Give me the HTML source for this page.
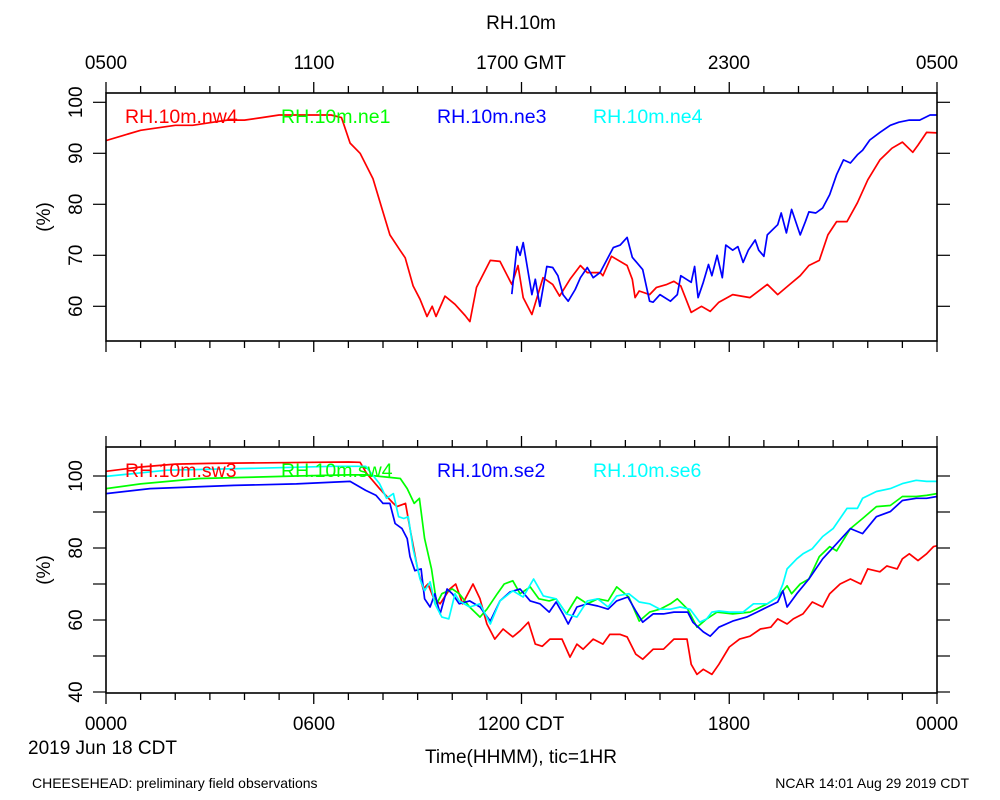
<!DOCTYPE html>
<html><head><meta charset="utf-8">
<style>
html,body{margin:0;padding:0;background:#fff;}
svg{display:block;font-family:"Liberation Sans",Arial,sans-serif;}
</style></head>
<body>
<svg id="chart" width="1000" height="800" viewBox="0 0 1000 800" xmlns="http://www.w3.org/2000/svg">
<rect width="1000" height="800" fill="#fff"/>
<text x="521" y="29" font-size="19" text-anchor="middle">RH.10m</text>
<g id="topAxisLabels" font-size="19" text-anchor="middle">
<text x="106" y="69">0500</text><text x="314" y="69">1100</text><text x="521" y="69">1700 GMT</text><text x="729" y="69">2300</text><text x="937" y="69">0500</text>
</g>
<g id="botAxisLabels" font-size="19" text-anchor="middle">
<text x="106" y="730">0000</text><text x="314" y="730">0600</text><text x="521" y="730">1200 CDT</text><text x="729" y="730">1800</text><text x="937" y="730">0000</text>
</g>
<text x="28" y="754" font-size="19">2019 Jun 18 CDT</text>
<text x="521" y="763" font-size="19" text-anchor="middle">Time(HHMM), tic=1HR</text>
<text x="32" y="788" font-size="14">CHEESEHEAD: preliminary field observations</text>
<text x="969" y="788" font-size="14" text-anchor="end">NCAR 14:01 Aug 29 2019 CDT</text>
<g id="plots"></g>
</svg>
<script>
// ---- data (hours since 0000 CDT, RH %) ----
const nw4T=[0,0.5,1,1.5,2,2.5,3,3.5,4,4.5,5,5.5,6,6.5,6.8,7.05,7.34,7.71,7.91,8.2,8.49,8.64,8.87,9.07,9.27,9.42,9.53,9.79,10.08,10.37,10.51,10.7,11.1,11.38,11.72,11.9,12.05,12.3,12.62,12.9,13.1,13.4,13.7,13.9,14.27,14.35,14.6,15.05,15.2,15.28,15.4,15.7,15.9,16.2,16.4,16.6,16.9,17.2,17.45,17.7,18.1,18.6,19.1,19.4,19.75,20.05,20.3,20.6,20.85,21.1,21.4,21.7,22,22.35,22.7,23,23.3,23.45,23.7,24];
const nw4V=[92.5,93.5,94.5,95,95.5,95.5,96,96.5,96.5,97,97.5,97.5,97.5,97.5,97,92,90,85,80.5,74,71,69.5,64,61.4,58,60,58,62,60.4,58.2,57,63.7,69,68.8,64.3,68,61.7,58.4,65.6,64.3,62,65.3,68,66.6,66.6,66,69.8,68,65.3,61.7,63,62.3,63.7,64.3,64.9,64,58.8,60,59,60.8,62.3,61.7,64.3,62.3,64.3,66,68,69,74,76.6,76.6,80.3,84.8,88.7,91,92.2,90.2,91.6,94.1,94];
const ne3T=[11.72,11.87,11.96,12.05,12.3,12.4,12.53,12.73,12.9,13.05,13.2,13.35,13.55,13.7,13.9,14.07,14.27,14.65,14.85,15.05,15.2,15.5,15.7,15.8,16,16.3,16.5,16.6,16.9,17,17.1,17.25,17.4,17.5,17.65,17.8,17.9,18.1,18.25,18.4,18.55,18.75,18.85,19,19.1,19.4,19.5,19.65,19.8,20.05,20.2,20.3,20.5,20.7,20.9,21.1,21.3,21.5,21.7,21.85,22.06,22.35,22.65,22.9,23.2,23.5,23.8,24];
const ne3V=[62.4,71.7,70,72.5,62.3,65.3,60,67.8,67.6,66,62.3,61,63.3,65.6,67.6,65.6,66.6,71.5,72,73.5,69.6,67.2,61,60.8,62.3,61,62.3,66,64.7,67.8,61.7,64.7,68.2,66,70,65.6,72,71,71.7,68.6,71,73,71,69.8,74,76,78.3,74.4,79,74,76.6,78.5,78.3,79.3,81.9,85.8,88.7,88.1,89.7,90.6,92.6,94.1,95.5,96.1,96.5,96.5,97.5,97.5];
const sw3T=[0,1,2,3,4,5,6,7,7.34,7.53,7.9,8.3,8.4,8.65,8.78,9,9.16,9.3,9.45,9.65,9.93,10.1,10.3,10.6,10.8,11,11.23,11.47,11.75,11.96,12.2,12.4,12.6,12.82,13.17,13.4,13.6,13.78,14.07,14.35,14.55,14.85,15.05,15.3,15.5,15.8,16.1,16.4,16.58,16.78,16.9,17.07,17.25,17.5,17.7,18,18.3,18.6,18.9,19.2,19.4,19.67,19.85,20.13,20.4,20.7,20.9,21.2,21.5,21.8,22,22.35,22.55,22.85,23,23.2,23.45,23.7,23.9,24];
const sw3V=[101.3,102.5,103.3,103.5,103.6,103.7,103.8,103.9,103.8,100.7,96.5,92.4,91.5,92.4,85.4,74.2,68.6,70,66.4,64.5,68.6,70,64.5,70,65.9,58.9,54.7,57.5,55.3,57,59.4,53.3,52.7,54.7,54.7,49.7,53.3,51.9,54.7,53.3,56,56,55.3,50.5,49.1,51.9,51.9,54.7,54.7,54.7,47.7,44.9,46.3,44.9,47.7,52.5,54.7,55.5,57.5,58,60.3,58.9,60.3,61.7,65,63.6,67.3,70,71.4,70,74.2,73.4,75,74.2,77,78.4,76.5,78.4,80.4,80.6];
const sw4T=[0,1,2.7,4,5.5,7,7.5,7.8,8.5,8.7,8.9,9.05,9.2,9.4,9.55,9.7,10,10.2,10.5,10.8,11,11.3,11.5,11.75,11.96,12.25,12.5,12.8,13,13.3,13.6,13.9,14.2,14.5,14.75,15.1,15.4,15.7,16,16.3,16.5,16.8,17.07,17.35,17.65,18.1,18.6,19.1,19.4,19.67,19.8,20.05,20.3,20.6,20.9,21.1,21.5,21.85,22.25,22.65,23,23.4,23.7,24];
const sw4V=[96.5,97.8,99.3,99.6,100,100.3,100.3,100,99.3,96.5,92.4,93.8,82.6,74.2,64.5,67.3,68.6,67.3,63.6,60.8,63,67.3,70,70.9,67.3,69.2,65.9,65.3,65.9,61.7,66.4,64.5,65.9,65.3,69.2,66.4,59.7,62.2,63,64.5,65.9,63,58,60.3,62.2,61.7,62.2,64.5,66.4,69.5,67.3,70,71.4,77.6,80.4,79.2,85.4,88.2,91.5,91.8,94.3,94.3,94.6,95.1];
const se2T=[0,1.27,3.7,5.5,7.05,7.5,7.8,8,8.2,8.35,8.55,8.7,8.78,8.92,9.1,9.2,9.36,9.5,9.65,9.85,10,10.2,10.5,10.8,11.1,11.38,11.67,11.96,12.25,12.53,12.8,13,13.2,13.35,13.6,13.9,14.2,14.5,14.75,15.07,15.3,15.5,15.8,16.1,16.4,16.8,16.95,17.25,17.45,17.7,18.1,18.5,18.8,19.1,19.4,19.55,19.67,19.95,20.3,20.7,21.1,21.5,21.85,22.25,22.65,23,23.4,23.7,24];
const se2V=[95.1,96.5,97.4,97.8,98.5,96,94.6,92.4,92.4,86.8,85.4,82.6,77.6,73.7,74.2,65.9,63.6,67.3,61.7,68.6,67.3,64.5,65.3,63.6,59.7,65.3,67.8,68.6,65.3,64.5,62.2,65,61.7,58.9,63.6,64.5,63.9,63,65.3,66.4,62.5,59.4,61.7,61.7,62.2,62.2,59.4,56.7,55.5,58,59.7,60.8,62.2,63.6,65,68.1,63.6,67.3,71.4,77,81.2,85.4,84,88.7,90.1,93.2,93.8,93.8,94.3];
const se6T=[0,1.76,4.15,6.55,7.5,7.9,8.1,8.3,8.45,8.6,8.73,8.87,9.07,9.2,9.36,9.5,9.7,9.9,10.08,10.2,10.5,10.8,11.1,11.38,11.75,12.05,12.35,12.63,13,13.3,13.6,13.9,14.2,14.5,14.75,15.1,15.4,15.7,16,16.3,16.58,16.87,17.15,17.35,17.5,17.7,18,18.4,18.7,19.1,19.4,19.55,19.67,19.95,20.13,20.4,20.7,21,21.4,21.7,21.85,22.25,22.65,23,23.4,23.7,24];
const se6V=[99.9,101.6,102.1,102.7,102.7,97.9,93.8,95.1,88.7,88.2,88.7,79.8,71.4,68.1,70.6,64.5,60.8,60.3,67.3,65.3,63.6,64.5,58.9,65.3,68.1,66.4,71.4,66.7,65.9,61.7,60.8,65.3,65.9,63.6,66.7,67.3,65,64.5,63,63,63.6,63,59.4,60.3,62.2,62.5,62.2,62.2,64.5,64.5,66.4,70,74.2,77,78.4,79.8,83.2,85.4,91,91,93.8,95.7,96.5,97.9,98.8,98.5,98.5];
const topYTicks=[60,70,80,90,100];
const botYTicks=[40,60,80,100];
const botYMinor=[50,70,90];

const NS='http://www.w3.org/2000/svg';
const plots=document.getElementById('plots');
const X0=106,X1=937;
function xs(h){return X0+(X1-X0)*h/24;}
const P1={top:93,bot:341,y:v=>102.3-(v-100)*5.1};
const P2={top:447,bot:693,y:v=>692-(v-40)*3.6};
function mk(tag,attrs,parent){const e=document.createElementNS(NS,tag);for(const k in attrs)e.setAttribute(k,attrs[k]);(parent||plots).appendChild(e);return e;}

function panel(P,name,yt,ymin,series,legends){
  const g=mk('g',{});
  
  
  const cp=mk('clipPath',{id:'cp-'+name},g);
  mk('rect',{x:X0,y:P.top,width:X1-X0,height:P.bot-P.top},cp);
  for(let h=0;h<=24;h++){
    const L=(h%6===0)?11:7;
    mk('line',{x1:xs(h),x2:xs(h),y1:P.top-L,y2:P.top,stroke:'#000','stroke-width':1.3},g);
    mk('line',{x1:xs(h),x2:xs(h),y1:P.bot,y2:P.bot+L,stroke:'#000','stroke-width':1.3},g);
  }
  yt.forEach(v=>{
    const y=P.y(v);
    mk('line',{x1:X0-13,x2:X0,y1:y,y2:y,stroke:'#000','stroke-width':1.2},g);
    mk('line',{x1:X1,x2:X1+13,y1:y,y2:y,stroke:'#000','stroke-width':1.2},g);
    const t=mk('text',{x:0,y:0,'font-size':19,'text-anchor':'middle',transform:`translate(82,${y}) rotate(-90)`},g);
    t.textContent=v;
    
    
  });
  ymin.forEach(v=>{
    const y=P.y(v);
    mk('line',{x1:X0-13,x2:X0,y1:y,y2:y,stroke:'#000','stroke-width':1.2},g);
    mk('line',{x1:X1,x2:X1+13,y1:y,y2:y,stroke:'#000','stroke-width':1.2},g);
  });
  const yl=mk('text',{x:0,y:0,'font-size':19,'text-anchor':'middle',transform:`translate(50,${(P.top+P.bot)/2}) rotate(-90)`},g);
  yl.textContent='(%)';
  
  
  const sg=mk('g',{'clip-path':`url(#cp-${name})`},g);
  series.forEach(s=>{
    const d=s.t.map((h,i)=>(i?'L':'M')+xs(h).toFixed(1)+','+P.y(s.v[i]).toFixed(1)).join('');
    const p=mk('path',{d:d,fill:'none',stroke:s.c,'stroke-width':1.7,'stroke-linejoin':'round'},sg);
    
    
  });
  legends.forEach((l,i)=>{
    const t=mk('text',{x:125+i*156,y:P.top+30,'font-size':19.5,fill:l.c},g);
    t.textContent=l.n;
    
    
  });
  mk('rect',{x:X0,y:P.top,width:X1-X0,height:P.bot-P.top,fill:'none',stroke:'#000','stroke-width':1.6},g);
}
panel(P1,'top-panel',topYTicks,[],[
  {n:'nw4',c:'#ff0000',t:nw4T,v:nw4V},
  {n:'ne3',c:'#0000ff',t:ne3T,v:ne3V}
],[{n:'RH.10m.nw4',c:'#ff0000'},{n:'RH.10m.ne1',c:'#00ff00'},{n:'RH.10m.ne3',c:'#0000ff'},{n:'RH.10m.ne4',c:'#00ffff'}]);
panel(P2,'bottom-panel',botYTicks,botYMinor,[
  {n:'sw3',c:'#ff0000',t:sw3T,v:sw3V},
  {n:'sw4',c:'#00ff00',t:sw4T,v:sw4V},
  {n:'se2',c:'#0000ff',t:se2T,v:se2V},
  {n:'se6',c:'#00ffff',t:se6T,v:se6V}
],[{n:'RH.10m.sw3',c:'#ff0000'},{n:'RH.10m.sw4',c:'#00ff00'},{n:'RH.10m.se2',c:'#0000ff'},{n:'RH.10m.se6',c:'#00ffff'}]);
</script>
</body></html>
